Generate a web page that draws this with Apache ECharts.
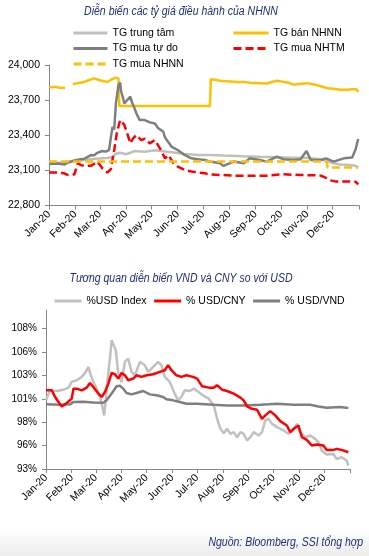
<!DOCTYPE html>
<html><head><meta charset="utf-8">
<script src="https://cdn.jsdelivr.net/npm/echarts@6/dist/echarts.min.js"></script>
<style>html,body{margin:0;padding:0;background:#fff;}#c{width:369px;height:556px;}</style>
</head><body><div id="c"></div>
<script>
// ---------- labels ----------
const title1 = 'Diễn biến các tỷ giá điều hành của NHNN';
const title2 = 'Tương quan diễn biến VND và CNY so với USD';
const sourceText = 'Nguồn: Bloomberg, SSI tổng hợp';
const monthLabels = ['Jan-20','Feb-20','Mar-20','Apr-20','May-20','Jun-20','Jul-20','Aug-20','Sep-20','Oct-20','Nov-20','Dec-20'];
const monthStarts = ['2020-01-01','2020-02-01','2020-03-01','2020-04-01','2020-05-01','2020-06-01','2020-07-01','2020-08-01','2020-09-01','2020-10-01','2020-11-01','2020-12-01','2021-01-01'];
const topTicks = [22800, 23100, 23400, 23700, 24000];
const bottomTicks = [93, 95.5, 98, 100.5, 103, 105.5, 108];

// ---------- top chart series ----------
const centralRate = [['2020-01-01',23166],['2020-01-10',23165],['2020-01-20',23170],['2020-02-04',23182],['2020-02-15',23192],['2020-02-25',23200],['2020-03-10',23205],['2020-03-16',23215],['2020-03-20',23242],['2020-03-25',23250],['2020-04-01',23238],['2020-04-11',23265],['2020-04-23',23260],['2020-05-05',23272],['2020-05-17',23262],['2020-06-01',23248],['2020-06-09',23240],['2020-06-25',23232],['2020-07-09',23231],['2020-07-25',23226],['2020-08-18',23220],['2020-09-06',23216],['2020-09-26',23212],['2020-10-16',23208],['2020-11-01',23205],['2020-11-17',23196],['2020-11-25',23175],['2020-12-02',23160],['2020-12-10',23150],['2020-12-18',23148],['2020-12-26',23142],['2020-12-31',23128]];
const sbvSell = [['2020-01-01',23805],['2020-01-05',23812],['2020-01-09',23815],['2020-01-13',23805],['2020-01-20',23803],['2020-01-24','-'],['2020-01-29',23836],['2020-02-04',23845],['2020-02-10',23852],['2020-02-16',23868],['2020-02-23',23886],['2020-03-01',23870],['2020-03-06',23862],['2020-03-10',23855],['2020-03-15',23878],['2020-03-20',23892],['2020-03-23',23885],['2020-03-24',23650],['2020-07-09',23650],['2020-07-10',23878],['2020-07-15',23875],['2020-07-21',23866],['2020-07-28',23862],['2020-08-06',23857],['2020-08-12',23852],['2020-08-18',23856],['2020-08-25',23848],['2020-09-06',23845],['2020-09-14',23842],['2020-09-20',23855],['2020-09-26',23866],['2020-10-04',23856],['2020-10-10',23848],['2020-10-16',23832],['2020-10-24',23840],['2020-11-01',23845],['2020-11-09',23833],['2020-11-17',23818],['2020-11-25',23802],['2020-12-02',23798],['2020-12-10',23788],['2020-12-18',23788],['2020-12-24',23792],['2020-12-26',23802],['2020-12-29',23792],['2020-12-31',23772]];
const freeMarket = [['2020-01-01',23155],['2020-01-11',23158],['2020-01-19',23150],['2020-01-23',23165],['2020-01-31',23185],['2020-02-04',23190],['2020-02-08',23195],['2020-02-12',23200],['2020-02-20',23232],['2020-02-23',23228],['2020-02-27',23250],['2020-03-04',23265],['2020-03-08',23260],['2020-03-10',23270],['2020-03-12',23275],['2020-03-14',23380],['2020-03-16',23470],['2020-03-18',23450],['2020-03-20',23672],['2020-03-23',23828],['2020-03-25',23850],['2020-03-26',23780],['2020-03-28',23729],['2020-03-30',23672],['2020-04-01',23690],['2020-04-03',23700],['2020-04-06',23730],['2020-04-08',23680],['2020-04-11',23630],['2020-04-13',23590],['2020-04-17',23530],['2020-04-23',23530],['2020-04-29',23510],['2020-05-05',23501],['2020-05-09',23460],['2020-05-15',23430],['2020-05-17',23380],['2020-05-21',23340],['2020-05-25',23300],['2020-06-01',23274],['2020-06-09',23232],['2020-06-17',23203],['2020-06-25',23195],['2020-07-03',23189],['2020-07-09',23175],['2020-07-21',23160],['2020-07-25',23138],['2020-08-06',23175],['2020-08-18',23160],['2020-08-25',23203],['2020-09-06',23189],['2020-09-14',23175],['2020-09-26',23217],['2020-10-04',23195],['2020-10-16',23189],['2020-10-24',23195],['2020-10-31',23265],['2020-11-05',23189],['2020-11-17',23189],['2020-11-23',23203],['2020-12-02',23175],['2020-12-14',23203],['2020-12-24',23210],['2020-12-28',23280],['2020-12-31',23368]];
const bankBuy = [['2020-01-01',23081],['2020-01-11',23081],['2020-01-19',23075],['2020-01-23',23061],['2020-01-31',23065],['2020-02-04',23160],['2020-02-08',23145],['2020-02-12',23138],['2020-02-20',23140],['2020-02-27',23175],['2020-03-04',23118],['2020-03-10',23081],['2020-03-14',23110],['2020-03-18',23274],['2020-03-21',23416],['2020-03-25',23530],['2020-03-30',23487],['2020-04-03',23402],['2020-04-06',23331],['2020-04-09',23370],['2020-04-13',23402],['2020-04-19',23359],['2020-04-23',23370],['2020-04-29',23331],['2020-05-05',23359],['2020-05-11',23288],['2020-05-17',23203],['2020-05-21',23230],['2020-05-27',23160],['2020-06-01',23132],['2020-06-09',23104],['2020-06-17',23090],['2020-07-03',23075],['2020-07-09',23065],['2020-07-21',23061],['2020-08-06',23055],['2020-09-14',23055],['2020-09-26',23063],['2020-10-04',23066],['2020-10-24',23060],['2020-11-09',23058],['2020-11-17',23055],['2020-11-23',23035],['2020-11-28',23015],['2020-12-04',23006],['2020-12-18',23006],['2020-12-28',23003],['2020-12-31',22980]];
const sbvBuy = [['2020-01-01',23175],['2020-11-24',23175],['2020-11-25',23125],['2020-12-31',23125]];

// ---------- bottom chart series (% of 1 Jan) ----------
const usdIndex = [['2020-01-01',100.34],['2020-01-06',101.41],['2020-01-14',101.34],['2020-01-22',101.48],['2020-01-28',101.70],['2020-02-01',102.31],['2020-02-07',102.49],['2020-02-13',102.85],['2020-02-18',103.38],['2020-02-21',103.92],['2020-02-24',103.02],['2020-02-27',102.31],['2020-03-02',101.59],['2020-03-06',100.70],['2020-03-09',99.62],['2020-03-11',98.73],['2020-03-13',100.34],['2020-03-15',102.49],['2020-03-18',104.81],['2020-03-20',106.78],['2020-03-22',106.96],['2020-03-25',105.71],['2020-03-28',103.20],['2020-04-01',102.31],['2020-04-05',104.46],['2020-04-09',104.81],['2020-04-13',103.38],['2020-04-17',103.02],['2020-04-23',104.46],['2020-04-29',104.10],['2020-05-03',103.38],['2020-05-09',103.92],['2020-05-15',104.46],['2020-05-19',104.10],['2020-05-23',102.85],['2020-05-29',102.31],['2020-06-04',101.06],['2020-06-08',100.34],['2020-06-12',100.70],['2020-06-16',101.41],['2020-06-22',101.34],['2020-06-27',101.60],['2020-07-05',101.06],['2020-07-11',100.70],['2020-07-15',100.52],['2020-07-21',99.80],['2020-07-25',98.37],['2020-07-29',97.30],['2020-08-02',96.83],['2020-08-06',97.30],['2020-08-10',96.76],['2020-08-14',96.94],['2020-08-18',96.40],['2020-08-22',96.94],['2020-08-26',96.76],['2020-08-30',96.04],['2020-09-03',96.40],['2020-09-07',96.94],['2020-09-13',96.58],['2020-09-17',96.94],['2020-09-21',98.19],['2020-09-25',98.37],['2020-09-29',97.83],['2020-10-05',97.48],['2020-10-13',97.12],['2020-10-19',96.76],['2020-10-25',97.12],['2020-10-29',97.83],['2020-11-02',96.94],['2020-11-08',96.40],['2020-11-14',96.58],['2020-11-20',96.22],['2020-11-24',95.86],['2020-11-28',94.97],['2020-12-04',94.54],['2020-12-12',94.61],['2020-12-16',94.07],['2020-12-22',94.25],['2020-12-28',93.90],['2020-12-30',93.36]];
const usdCny = [['2020-01-01',101.41],['2020-01-08',101.41],['2020-01-12',100.70],['2020-01-16',100.16],['2020-01-20',99.69],['2020-01-26',100.05],['2020-02-01',100.52],['2020-02-03',101.59],['2020-02-07',101.59],['2020-02-13',101.41],['2020-02-19',101.70],['2020-02-23',102.20],['2020-02-27',101.77],['2020-03-04',101.06],['2020-03-08',100.70],['2020-03-12',101.23],['2020-03-16',102.13],['2020-03-20',103.27],['2020-03-24',103.13],['2020-03-28',102.67],['2020-04-01',103.27],['2020-04-05',103.02],['2020-04-09',102.49],['2020-04-15',102.67],['2020-04-19',103.02],['2020-04-25',102.85],['2020-05-01',103.02],['2020-05-09',103.13],['2020-05-17',103.38],['2020-05-23',103.56],['2020-05-27',104.10],['2020-05-31',103.56],['2020-06-06',103.02],['2020-06-12',102.85],['2020-06-18',103.02],['2020-06-26',102.85],['2020-07-01',102.67],['2020-07-07',101.84],['2020-07-15',101.70],['2020-07-21',101.70],['2020-07-25',101.95],['2020-07-31',101.48],['2020-08-06',101.34],['2020-08-14',101.06],['2020-08-22',100.63],['2020-08-26',100.34],['2020-08-30',99.69],['2020-09-05',99.44],['2020-09-11',99.34],['2020-09-17',98.37],['2020-09-21',98.73],['2020-09-27',99.19],['2020-10-03',98.73],['2020-10-09',98.12],['2020-10-17',97.65],['2020-10-21',96.94],['2020-10-25',97.30],['2020-10-31',97.65],['2020-11-04',96.40],['2020-11-10',96.11],['2020-11-16',95.51],['2020-11-22',95.61],['2020-11-30',95.51],['2020-12-04',95.04],['2020-12-12',95.04],['2020-12-16',95.15],['2020-12-22',95.04],['2020-12-30',94.79]];
const usdVnd = [['2020-01-01',99.91],['2020-01-18',99.87],['2020-01-30',99.91],['2020-02-03',100.16],['2020-02-15',100.20],['2020-02-27',100.12],['2020-03-10',100.09],['2020-03-14',100.34],['2020-03-20',101.06],['2020-03-26',101.85],['2020-03-30',101.90],['2020-04-03',101.59],['2020-04-07',101.13],['2020-04-13',100.98],['2020-04-19',101.13],['2020-04-27',101.34],['2020-05-05',100.98],['2020-05-13',100.88],['2020-05-21',100.70],['2020-05-25',100.45],['2020-06-02',100.34],['2020-06-10',100.16],['2020-06-18',99.98],['2020-07-01',99.98],['2020-07-21',99.87],['2020-08-06',99.80],['2020-08-26',99.80],['2020-09-15',99.87],['2020-10-05',99.98],['2020-10-25',99.87],['2020-11-14',99.87],['2020-11-24',99.69],['2020-12-04',99.55],['2020-12-20',99.62],['2020-12-30',99.52]];

// ---------- build ----------
const ts = s => { const p = s.split('-').map(Number); return new Date(p[0], p[1] - 1, p[2]).getTime(); };
const toXY = arr => arr.map(([d, v]) => [ts(d), v]);
const tickTimes = monthStarts.map(ts);
const labelTimes = tickTimes.slice(0, 12);
const FONT = "'Liberation Sans', Arial, sans-serif";
const NAVY = '#1F2F7E';
const AX = '#868686';
const TITLE_FONT = "italic 12.5px 'Liberation Sans', Arial, sans-serif";

function xAxisDef(gridIndex) {
  return {
    type: 'value', gridIndex,
    min: tickTimes[0], max: tickTimes[12],
    axisLine: { show: true, onZero: false, lineStyle: { color: AX, width: 1 } },
    axisTick: { show: true, customValues: tickTimes, length: 4, lineStyle: { color: AX } },
    axisLabel: { customValues: labelTimes, rotate: 45, margin: 7, fontSize: 10.5, color: '#000', fontFamily: FONT,
      formatter: v => monthLabels[new Date(v).getMonth()] },
    splitLine: { show: false }
  };
}
function lineSeries(name, data, color, dashed, xi, z) {
  return {
    name, type: 'line', data: toXY(data), xAxisIndex: xi, yAxisIndex: xi,
    symbol: 'none', showSymbol: false, connectNulls: false, z: z || 2,
    lineStyle: { color, width: 2.5, type: dashed ? [8, 4] : 'solid' },
    itemStyle: { color }, animation: false
  };
}
const legendText = { fontSize: 10.5, color: '#000', fontFamily: FONT, lineHeight: 12 };
const legendCommon = { padding: 0, itemHeight: 12, textStyle: legendText, selectedMode: false, itemStyle: { opacity: 0, borderWidth: 0 }, lineStyle: { width: 3 } };

const chart = echarts.init(document.getElementById('c'), null, { renderer: 'canvas' });
chart.setOption({
  animation: false,
  backgroundColor: '#fff',
  textStyle: { fontFamily: FONT },
  legend: [
    Object.assign({ data: ['TG trung tâm', 'TG mua tự do', 'TG mua NHNN'], orient: 'vertical', left: 72, top: 27, itemWidth: 34, itemGap: 3.5 }, legendCommon),
    Object.assign({ data: ['TG bán NHNN', 'TG mua NHTM'], orient: 'vertical', left: 232, top: 27, itemWidth: 35, itemGap: 3.5 }, legendCommon),
    Object.assign({ data: ['%USD Index', '% USD/CNY', '% USD/VND'], orient: 'horizontal', left: 53, top: 295, itemWidth: 27, itemGap: 6 }, legendCommon)
  ],
  grid: [
    { left: 49, right: 10, top: 65, height: 140.5 },
    { left: 46, right: 19, top: 310, height: 159 }
  ],
  xAxis: [xAxisDef(0), xAxisDef(1)],
  yAxis: [
    { type: 'value', gridIndex: 0, min: 22800, max: 24000, interval: 300,
      axisLine: { show: true, lineStyle: { color: AX } },
      axisTick: { show: true, length: 4, lineStyle: { color: AX } },
      splitLine: { show: false },
      axisLabel: { margin: 9, fontSize: 10.5, color: '#000', fontFamily: FONT, formatter: v => v.toLocaleString('en-US') } },
    { type: 'value', gridIndex: 1, min: 93, max: 110,
      axisLine: { show: true, lineStyle: { color: AX } },
      axisTick: { show: true, length: 4, customValues: bottomTicks, lineStyle: { color: AX } },
      splitLine: { show: false },
      axisLabel: { customValues: bottomTicks, margin: 9, fontSize: 10, color: '#000', fontFamily: FONT, formatter: v => Math.round(v) + '%' } }
  ],
  graphic: [
    { type: 'rect', left: 0, top: 528, shape: { width: 369, height: 28 }, silent: true, z: -10,
      style: { fill: new echarts.graphic.LinearGradient(0, 0, 0, 1, [{ offset: 0, color: '#ffffff' }, { offset: 1, color: '#ececec' }]) } },
    { type: 'text', x: 181, y: 11.5, scaleX: 0.84, silent: true,
      style: { text: title1, font: TITLE_FONT, fill: NAVY, align: 'center', verticalAlign: 'middle' } },
    { type: 'text', x: 181, y: 279, scaleX: 0.84, silent: true,
      style: { text: title2, font: TITLE_FONT, fill: NAVY, align: 'center', verticalAlign: 'middle' } },
    { type: 'text', x: 363, y: 543, scaleX: 0.84, silent: true,
      style: { text: sourceText, font: TITLE_FONT, fill: NAVY, align: 'right', verticalAlign: 'middle' } }
  ],
  series: [
    lineSeries('TG trung tâm', centralRate, '#BFBFBF', false, 0),
    lineSeries('TG bán NHNN', sbvSell, '#FFC000', false, 0),
    lineSeries('TG mua tự do', freeMarket, '#7F7F7F', false, 0),
    lineSeries('TG mua NHTM', bankBuy, '#FF0000', true, 0),
    lineSeries('TG mua NHNN', sbvBuy, '#FFC000', true, 0),
    lineSeries('%USD Index', usdIndex, '#C0C0C0', false, 1),
    lineSeries('% USD/CNY', usdCny, '#FF0000', false, 1, 4),
    lineSeries('% USD/VND', usdVnd, '#7F7F7F', false, 1, 3)
  ]
});
</script>
</body></html>
